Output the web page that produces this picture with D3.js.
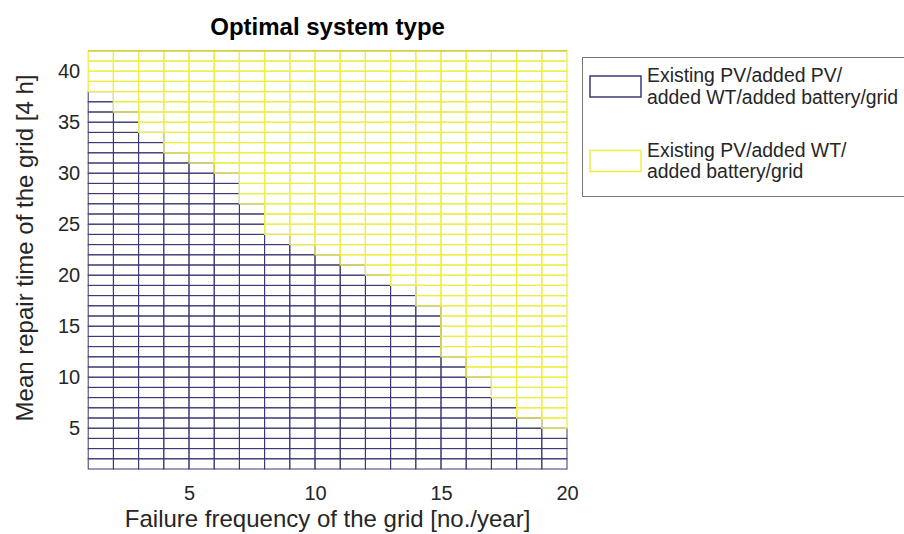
<!DOCTYPE html>
<html>
<head>
<meta charset="utf-8">
<script src="https://cdn.jsdelivr.net/npm/d3@7"></script>
<style>
body { margin: 0; background: #fff; }
svg { font-family: "Liberation Sans", Arial, sans-serif; }
</style>
</head>
<body>
<svg width="904" height="534"></svg>
<script>
// grid cells: left edge of each failure-frequency column, bottom edge of each repair-time row
const failureFreq = [1, 2, 3, 4, 5, 6, 7, 8, 9, 10, 11, 12, 13, 14, 15, 16, 17, 18, 19];
const repairTime = [1, 2, 3, 4, 5, 6, 7, 8, 9, 10, 11, 12, 13, 14, 15, 16, 17, 18, 19, 20,
    21, 22, 23, 24, 25, 26, 27, 28, 29, 30, 31, 32, 33, 34, 35, 36, 37, 38, 39, 40, 41];
// repair time from which the second system type is optimal, per column
const switchAt = [38, 36, 34, 32, 31, 30, 27, 24, 23, 22, 21, 20, 19, 17, 12, 10, 8, 6, 5];

const xTicks = [5, 10, 15, 20];
const yTicks = [5, 10, 15, 20, 25, 30, 35, 40];

const typeNames = [
    ["Existing PV/added PV/", "added WT/added battery/grid"],
    ["Existing PV/added WT/", "added battery/grid"]
];
const typeColors = ["#3b3874", "#eeee48"];
const typeWidths = [1, 1.25];

const svg = d3.select("svg");
const margin = { left: 88.2, right: 567, top: 50.8, bottom: 469 };

const x = d3.scaleLinear().domain([1, 20]).range([margin.left, margin.right]);
const y = d3.scaleLinear().domain([1, 42]).range([margin.bottom, margin.top]);

const cells = [];
failureFreq.forEach((f, i) => {
    repairTime.forEach(r => {
        cells.push({ f, r, type: r < switchAt[i] ? 0 : 1 });
    });
});
// navy first, yellow on top (shared edges go yellow)
cells.sort((a, b) => a.type - b.type);

svg.append("g")
    .selectAll("rect")
    .data(cells)
    .join("rect")
    .attr("x", d => x(d.f))
    .attr("y", d => y(d.r + 1))
    .attr("width", d => x(d.f + 1) - x(d.f))
    .attr("height", d => y(d.r) - y(d.r + 1))
    .attr("fill", "none")
    .attr("stroke", d => typeColors[d.type])
    .attr("stroke-width", d => typeWidths[d.type]);

// top border looks a bit darker
svg.append("line")
    .attr("x1", x(1)).attr("x2", x(20))
    .attr("y1", y(42)).attr("y2", y(42))
    .attr("stroke", "#c4c43a")
    .attr("stroke-width", 1.2);

const xAxis = svg.append("g")
    .attr("transform", "translate(0," + margin.bottom + ")")
    .call(d3.axisBottom(x).tickValues(xTicks).tickSize(0).tickPadding(17));
xAxis.select(".domain").remove();
xAxis.selectAll("text")
    .attr("font-size", 20)
    .attr("font-family", "Liberation Sans, Arial, sans-serif")
    .attr("fill", "#262626");

const yAxis = svg.append("g")
    .attr("transform", "translate(" + margin.left + ",0)")
    .call(d3.axisLeft(y).tickValues(yTicks).tickSize(0).tickPadding(8));
yAxis.select(".domain").remove();
yAxis.selectAll("text")
    .attr("font-size", 20)
    .attr("font-family", "Liberation Sans, Arial, sans-serif")
    .attr("fill", "#262626");

svg.append("text")
    .attr("x", (margin.left + margin.right) / 2)
    .attr("y", 35)
    .attr("text-anchor", "middle")
    .attr("font-size", 24)
    .attr("font-weight", "bold")
    .attr("fill", "#000")
    .text("Optimal system type");

svg.append("text")
    .attr("x", (margin.left + margin.right) / 2)
    .attr("y", 527)
    .attr("text-anchor", "middle")
    .attr("font-size", 24)
    .attr("fill", "#262626")
    .text("Failure frequency of the grid [no./year]");

svg.append("text")
    .attr("transform", "translate(33,248) rotate(-90)")
    .attr("text-anchor", "middle")
    .attr("font-size", 24)
    .attr("fill", "#262626")
    .text("Mean repair time of the grid [4 h]");

// legend
const legend = svg.append("g");
legend.append("rect")
    .attr("x", 582.5).attr("y", 57.5)
    .attr("width", 340).attr("height", 139)
    .attr("fill", "#fff")
    .attr("stroke", "#777")
    .attr("stroke-width", 1);

const items = legend.selectAll(".item")
    .data(typeNames)
    .join("g")
    .attr("class", "item")
    .attr("transform", (d, i) => "translate(0," + (i * 74.5) + ")");

items.append("rect")
    .attr("x", 590).attr("y", 76)
    .attr("width", 51).attr("height", 21)
    .attr("fill", "#fff")
    .attr("stroke", (d, i) => typeColors[i])
    .attr("stroke-width", 1.5);

items.append("text")
    .attr("x", 647)
    .attr("y", 82)
    .attr("font-size", 19.4)
    .attr("fill", "#262626")
    .selectAll("tspan")
    .data(d => d)
    .join("tspan")
    .attr("x", 647)
    .attr("dy", (d, i) => i ? 21.6 : 0)
    .text(d => d);
</script>
</body>
</html>
